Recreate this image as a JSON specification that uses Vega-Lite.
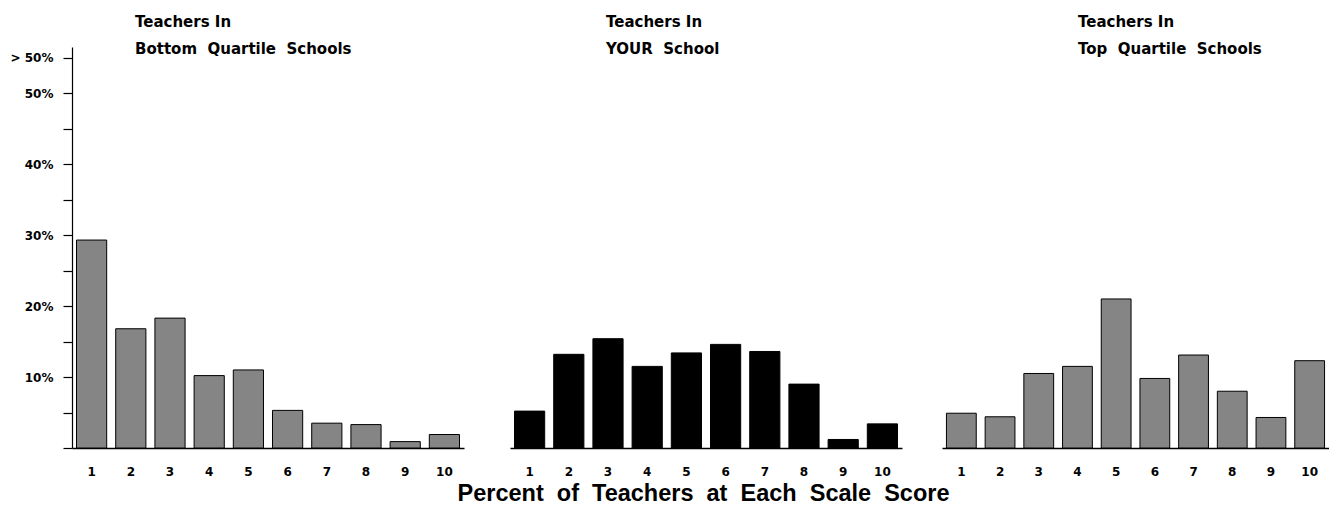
{
  "$schema": "https://vega.github.io/schema/vega-lite/v6.json",
  "background": "white",
  "padding": {"left": 10, "top": 15, "right": 0, "bottom": 0},
  "config": {
    "view": {"stroke": null},
    "font": "DejaVu Sans",
    "axis": {"labelFont": "DejaVu Sans", "labelFontWeight": "bold", "labelColor": "black", "domainColor": "black", "tickColor": "black", "grid": false}
  },
  "datasets": {
    "scores": [
      {"panel": "bottom", "score": 1, "pct": 29.3},
      {"panel": "bottom", "score": 2, "pct": 16.8},
      {"panel": "bottom", "score": 3, "pct": 18.3},
      {"panel": "bottom", "score": 4, "pct": 10.2},
      {"panel": "bottom", "score": 5, "pct": 11.0},
      {"panel": "bottom", "score": 6, "pct": 5.3},
      {"panel": "bottom", "score": 7, "pct": 3.5},
      {"panel": "bottom", "score": 8, "pct": 3.3},
      {"panel": "bottom", "score": 9, "pct": 0.9},
      {"panel": "bottom", "score": 10, "pct": 1.9},
      {"panel": "yours", "score": 1, "pct": 5.2},
      {"panel": "yours", "score": 2, "pct": 13.2},
      {"panel": "yours", "score": 3, "pct": 15.4},
      {"panel": "yours", "score": 4, "pct": 11.5},
      {"panel": "yours", "score": 5, "pct": 13.4},
      {"panel": "yours", "score": 6, "pct": 14.6},
      {"panel": "yours", "score": 7, "pct": 13.6},
      {"panel": "yours", "score": 8, "pct": 9.0},
      {"panel": "yours", "score": 9, "pct": 1.2},
      {"panel": "yours", "score": 10, "pct": 3.4},
      {"panel": "top", "score": 1, "pct": 4.9},
      {"panel": "top", "score": 2, "pct": 4.4},
      {"panel": "top", "score": 3, "pct": 10.5},
      {"panel": "top", "score": 4, "pct": 11.5},
      {"panel": "top", "score": 5, "pct": 21.0},
      {"panel": "top", "score": 6, "pct": 9.8},
      {"panel": "top", "score": 7, "pct": 13.1},
      {"panel": "top", "score": 8, "pct": 8.0},
      {"panel": "top", "score": 9, "pct": 4.3},
      {"panel": "top", "score": 10, "pct": 12.3}
    ]
  },
  "title": {
    "text": "Percent\u00a0 of\u00a0 Teachers\u00a0 at\u00a0 Each\u00a0 Scale\u00a0 Score",
    "orient": "bottom",
    "anchor": "middle",
    "font": "Liberation Sans",
    "fontSize": 23.5,
    "fontWeight": "bold",
    "color": "black",
    "offset": 5,
    "dx": 34
  },
  "spacing": 46,
  "hconcat": [
    {
      "width": 392,
      "height": 401,
      "data": {"name": "scores"},
      "transform": [{"filter": "datum.panel === 'bottom'"}],
      "title": {
        "text": ["Teachers In", "Bottom\u00a0 Quartile\u00a0 Schools"],
        "anchor": "start", "frame": "group", "dx": 63, "offset": -10,
        "font": "DejaVu Sans", "fontSize": 15, "fontWeight": "bold", "color": "black", "lineHeight": 27
      },
      "mark": {"type": "bar", "fill": "#858585", "stroke": "black", "strokeWidth": 1},
      "encoding": {
        "x": {
          "field": "score", "type": "ordinal",
          "scale": {"paddingInner": 0.23, "paddingOuter": 0.115},
          "axis": {"title": null, "labelAngle": 0, "ticks": false, "labelPadding": 18, "labelFontSize": 12, "domainWidth": 1.5}
        },
        "y": {
          "field": "pct", "type": "quantitative",
          "scale": {"domain": [0, 56.5], "nice": false},
          "axis": {
            "title": null,
            "values": [0, 5, 10, 15, 20, 25, 30, 35, 40, 45, 50, 55],
            "labelExpr": "datum.value == 55 ? '> 50%' : (datum.value > 0 && datum.value % 10 == 0 ? datum.value + '%' : '')",
            "tickSize": 9, "labelPadding": 10, "labelFontSize": 12, "domainWidth": 1.2, "tickWidth": 1.2
          }
        }
      }
    },
    {
      "spacing": 40,
      "hconcat": [
        {
          "width": 392,
          "height": 401,
          "data": {"name": "scores"},
          "transform": [{"filter": "datum.panel === 'yours'"}],
          "title": {
            "text": ["Teachers In", "YOUR\u00a0 School"],
            "anchor": "start", "frame": "group", "dx": 96, "offset": -10,
            "font": "DejaVu Sans", "fontSize": 15, "fontWeight": "bold", "color": "black", "lineHeight": 27
          },
          "mark": {"type": "bar", "fill": "black", "stroke": "black", "strokeWidth": 1},
          "encoding": {
            "x": {
              "field": "score", "type": "ordinal",
              "scale": {"paddingInner": 0.23, "paddingOuter": 0.115},
              "axis": {"title": null, "labelAngle": 0, "ticks": false, "labelPadding": 18, "labelFontSize": 12, "domainWidth": 1.5}
            },
            "y": {
              "field": "pct", "type": "quantitative",
              "scale": {"domain": [0, 56.5], "nice": false},
              "axis": null
            }
          }
        },
        {
          "width": 387,
          "height": 401,
          "data": {"name": "scores"},
          "transform": [{"filter": "datum.panel === 'top'"}],
          "title": {
            "text": ["Teachers In", "Top\u00a0 Quartile\u00a0 Schools"],
            "anchor": "start", "frame": "group", "dx": 136, "offset": -10,
            "font": "DejaVu Sans", "fontSize": 15, "fontWeight": "bold", "color": "black", "lineHeight": 27
          },
          "mark": {"type": "bar", "fill": "#858585", "stroke": "black", "strokeWidth": 1},
          "encoding": {
            "x": {
              "field": "score", "type": "ordinal",
              "scale": {"paddingInner": 0.23, "paddingOuter": 0.115},
              "axis": {"title": null, "labelAngle": 0, "ticks": false, "labelPadding": 18, "labelFontSize": 12, "domainWidth": 1.5}
            },
            "y": {
              "field": "pct", "type": "quantitative",
              "scale": {"domain": [0, 56.5], "nice": false},
              "axis": null
            }
          }
        }
      ]
    }
  ]
}
